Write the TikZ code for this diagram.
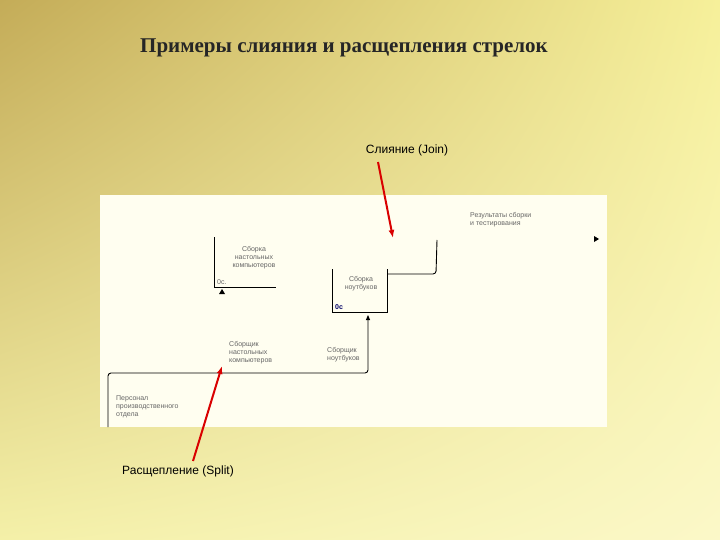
\documentclass[tikz,border=0pt]{standalone}
\usepackage{fontspec}
\setmainfont{Liberation Serif}
\newfontfamily\sans{Liberation Sans}
\usetikzlibrary{arrows.meta,shadings}
\begin{document}
\begin{tikzpicture}[x=1pt,y=-1pt,
  lbl/.style={font=\sans\fontsize{7}{8}\selectfont,text=gray!80!black,align=left,inner sep=0,anchor=north west},
  ln/.style={line width=0.9pt,black},
  red arrow/.style={draw=red!85!black,line width=2pt,-{Latex[length=8pt,width=6pt]}}]
\definecolor{olive1}{HTML}{C4AC58}
\definecolor{pale1}{HTML}{F6F09A}
\definecolor{pale2}{HTML}{F4F0A8}
\definecolor{pale3}{HTML}{FBF8C8}
\shade[upper left=olive1, upper right=pale1, lower left=pale2, lower right=pale3] (0,0) rectangle (720,540);
\useasboundingbox (0,0) rectangle (720,540);
\node (title) [font=\bfseries\fontsize{21}{24}\selectfont,text=black!85] at (344,48) {Примеры слияния и расщепления стрелок};
\fill[yellow!6!white] (100,195) rectangle (607,427);
% box 1
\draw[ln] (214,237) -- (214,287) -- (276,287);
\node[lbl,align=center,anchor=center] (b1) at (254,258) {Сборка\\настольных\\компьютеров};
\node[lbl] (b1n) at (217,279) {0с.};
\fill (222,289) -- (225,294) -- (219,294) -- cycle;
% box 2
\draw[ln] (332,269) -- (332,312) -- (387,312) -- (387,269);
\node[lbl,align=center,anchor=center] (b2) at (361,284) {Сборка\\ноутбуков};
\node[lbl,text=blue!40!black,font=\sans\bfseries\fontsize{7}{8}\selectfont] (b2n) at (335,304) {0с};
% output
\draw[ln,rounded corners=3pt] (387,274) -- (436,274) -- (437,240);
\node[lbl] (out) at (470,212) {Результаты сборки\\и тестирования};
\fill (599,239) -- ++(-5,-3) -- ++(0,6) -- cycle;
% mechanism
\draw[ln,rounded corners=3pt,-{Triangle[length=5pt,width=4pt]}] (108,427) -- (108,373) -- (368,373) -- (368,315);
\node[lbl] (s1) at (229,341) {Сборщик\\настольных\\компьютеров};
\node[lbl] (s2) at (327,347) {Сборщик\\ноутбуков};
\node[lbl] (p) at (116,395) {Персонал\\производственного\\отдела};
% red arrows
\node[font=\sans\fontsize{12}{14}\selectfont] (join) at (407,150) {Слияние (Join)};
\node[font=\sans\fontsize{12}{14}\selectfont] (split) at (178,471) {Расщепление (Split)};
\draw[red arrow] (378,162) -- (393,238);
\draw[red arrow] (193,461) -- (222,366);
\end{tikzpicture}
\end{document}
